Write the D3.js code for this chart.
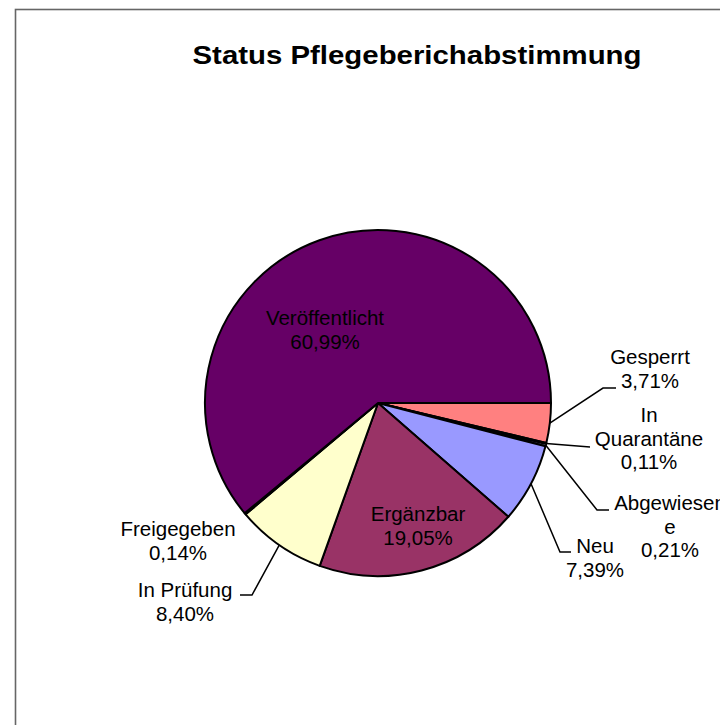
<!DOCTYPE html>
<html>
<head>
<meta charset="utf-8">
<script src="https://cdn.jsdelivr.net/npm/d3@7"></script>
<style>
  body { margin: 0; background: #fff; }
  text { font-family: "Liberation Sans", Arial, sans-serif; fill: #000; }
</style>
</head>
<body>
<svg id="chart" width="720" height="725"></svg>
<script>
// slices clockwise, starting at 3 o'clock
const categories = ["Gesperrt", "In Quarantäne", "Abgewiesene", "Neu", "Ergänzbar", "In Prüfung", "Freigegeben", "Veröffentlicht"];
const values = [3.71, 0.11, 0.21, 7.39, 19.05, 8.40, 0.14, 60.99];
const valueLabels = ["3,71%", "0,11%", "0,21%", "7,39%", "19,05%", "8,40%", "0,14%", "60,99%"];
const colors = ["#FF8080", "#0066CC", "#CCCCFF", "#9999FF", "#993366", "#FFFFCC", "#CCFFFF", "#660066"];

// label lines as they are wrapped in the picture
const labelLines = [
  ["Gesperrt"],
  ["In", "Quarantäne"],
  ["Abgewiesen", "e"],
  ["Neu"],
  ["Ergänzbar"],
  ["In Prüfung"],
  ["Freigegeben"],
  ["Veröffentlicht"]
];

// layout: label block centre x, first baseline y, leader elbow; relative to pie centre
const labelLayout = [
  { x: 272, y: -39, elbow: [225, -15], end: [238, -15] },
  { x: 271, y: 19,  elbow: [212, 44],  end: [212, 44] },
  { x: 292, y: 107, elbow: [219, 107], end: [231, 107] },
  { x: 217, y: 150, elbow: [182, 149], end: [193, 149] },
  { x: 40,  y: 118, elbow: null },
  { x: -193, y: 194, elbow: [-126, 192], end: [-138, 192] },
  { x: -200, y: 133, elbow: null },
  { x: -53, y: -78, elbow: null }
];

const cx = 378, cy = 403, radius = 173;
const fontSize = 20.5, lineH = 23.5;

const svg = d3.select("#chart");

// chart area frame
svg.append("rect")
  .attr("x", 15.5).attr("y", 9.5)
  .attr("width", 820).attr("height", 760)
  .attr("fill", "#fff")
  .attr("stroke", "#666")
  .attr("stroke-width", 1.6);

svg.append("text")
  .attr("x", 417).attr("y", 64)
  .attr("text-anchor", "middle")
  .attr("font-size", 26)
  .attr("font-weight", "bold")
  .attr("textLength", 449)
  .attr("lengthAdjust", "spacingAndGlyphs")
  .text("Status Pflegeberichabstimmung");

const data = categories.map((c, i) => ({ name: c, value: values[i], label: valueLabels[i], color: colors[i], lines: labelLines[i], layout: labelLayout[i] }));

const pie = d3.pie()
  .sort(null)
  .value(d => d.value)
  .startAngle(Math.PI / 2)
  .endAngle(Math.PI / 2 + 2 * Math.PI);

const arc = d3.arc().innerRadius(0).outerRadius(radius);
const arcs = pie(data);

const g = svg.append("g").attr("transform", `translate(${cx},${cy})`);

g.selectAll("path.slice")
  .data(arcs)
  .join("path")
  .attr("class", "slice")
  .attr("d", arc)
  .attr("fill", d => d.data.color)
  .attr("stroke", "#000")
  .attr("stroke-width", 2)
  .attr("stroke-linejoin", "round");

// leader lines from the slice edge
arcs.filter(d => d.data.layout.elbow).forEach(d => {
  const mid = (d.startAngle + d.endAngle) / 2;
  const p0 = [radius * Math.sin(mid), -radius * Math.cos(mid)];
  const L = d.data.layout;
  g.append("polyline")
    .attr("points", [p0, L.elbow, L.end].map(p => p.join(",")).join(" "))
    .attr("fill", "none")
    .attr("stroke", "#000")
    .attr("stroke-width", 1.5);
});

// labels
arcs.forEach(d => {
  const L = d.data.layout;
  const lines = d.data.lines.concat([d.data.label]);
  const t = g.append("text")
    .attr("text-anchor", "middle")
    .attr("font-size", fontSize);
  lines.forEach((ln, i) => {
    t.append("tspan")
      .attr("x", L.x)
      .attr("y", L.y + i * lineH)
      .text(ln);
  });
});
</script>
</body>
</html>
